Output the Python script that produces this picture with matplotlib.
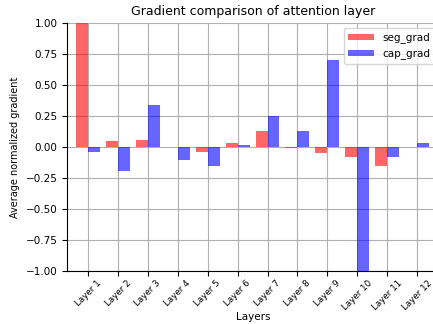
import numpy as np
import matplotlib.pyplot as plt

layers = ['Layer %d' % i for i in range(1, 13)]
seg_grad = [1.0, 0.05, 0.06, 0.0, -0.04, 0.03, 0.13, -0.01, -0.05, -0.08, -0.15, 0.0]
cap_grad = [-0.04, -0.19, 0.34, -0.10, -0.15, 0.02, 0.25, 0.13, 0.70, -1.05, -0.08, 0.03]

fig = plt.figure(figsize=(4.33, 3.24), dpi=100)
ax = fig.add_axes([0.155, 0.163, 0.86, 0.766])

x = np.arange(len(layers))
w = 0.4
ax.bar(x - w / 2, seg_grad, w, color='red', alpha=0.6, label='seg_grad', zorder=3)
ax.bar(x + w / 2, cap_grad, w, color='blue', alpha=0.6, label='cap_grad', zorder=3)

ax.set_xlim(-0.7, 11.75)
ax.set_ylim(-1.0, 1.0)
ax.set_yticks(np.arange(-1.0, 1.01, 0.25))
ax.set_xticks(x)
ax.set_xticklabels(layers, rotation=45, ha='center', fontsize=6.3)
ax.tick_params(axis='y', labelsize=7.5)
ax.tick_params(axis='x', pad=2)
ax.grid(True, color='#b0b0b0', linewidth=0.8, zorder=0)
ax.set_axisbelow(True)
for s in ['top', 'right']:
    ax.spines[s].set_visible(False)

ax.set_title('Gradient comparison of attention layer', fontsize=9)
ax.set_xlabel('Layers', fontsize=7.5, labelpad=0)
ax.set_ylabel('Average normalized gradient', fontsize=7)
ax.legend(loc='upper right', fontsize=7.5, handleheight=0.5, handlelength=2.5)

fig.savefig('out.png', dpi=100)
